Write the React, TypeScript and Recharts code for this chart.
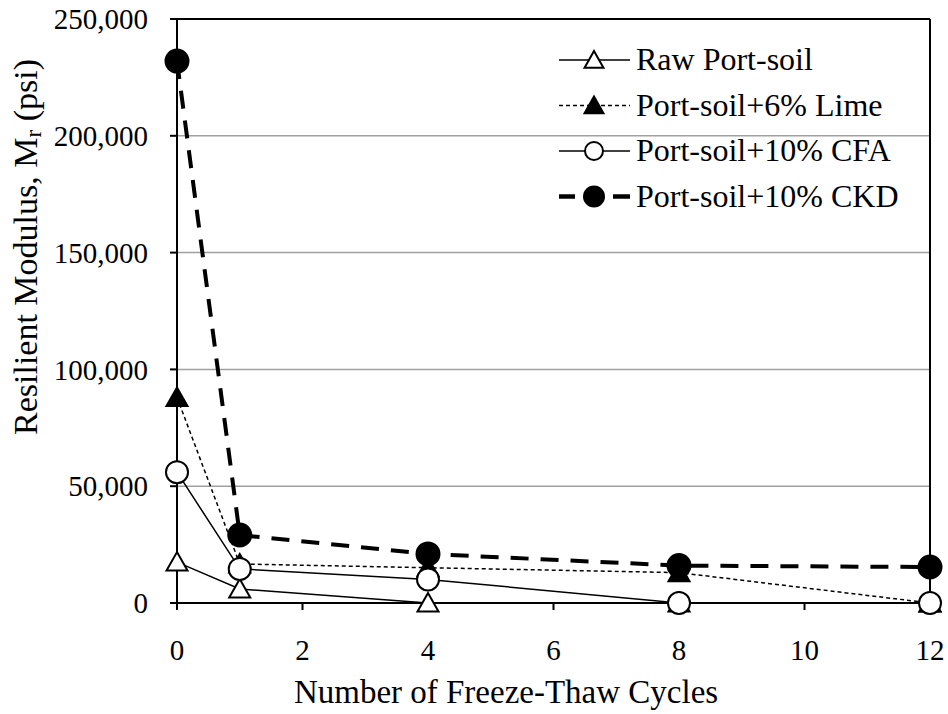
import React from 'react';
import { LineChart, Line, XAxis, YAxis, CartesianGrid, ReferenceLine, Legend } from 'recharts';

const cycles = [0, 1, 4, 8, 12];
const rawPortSoil = [17500, 6000, 0, 0, 0];
const lime6 = [88000, 16700, 15100, 13000, 0];
const cfa10 = [56000, 14600, 10100, 0, 0];
const ckd10 = [232000, 29100, 21000, 16000, 15400];

const seriesNames = ['Raw Port-soil', 'Port-soil+6% Lime', 'Port-soil+10% CFA', 'Port-soil+10% CKD'];
const xTicks = [0, 2, 4, 6, 8, 10, 12];
const yTicks = [0, 50000, 100000, 150000, 200000, 250000];

const data = cycles.map((c, i) => ({ x: c, raw: rawPortSoil[i], lime: lime6[i], cfa: cfa10[i], ckd: ckd10[i] }));

const FONT = 'Liberation Serif';

type Kind = 'triOpen' | 'triFilled' | 'circOpen' | 'circFilled';

const marker = (kind: Kind, cx: number, cy: number, s: number, key?: string) => {
  if (kind === 'triOpen' || kind === 'triFilled') {
    const h = s * 1.0;
    const w = s * 1.05;
    const pts = `${cx},${cy - h} ${cx - w},${cy + h * 0.85} ${cx + w},${cy + h * 0.85}`;
    return (
      <polygon key={key} points={pts} fill={kind === 'triFilled' ? '#000' : '#fff'} stroke="#000" strokeWidth={2} />
    );
  }
  return <circle key={key} cx={cx} cy={cy} r={s} fill={kind === 'circFilled' ? '#000' : '#fff'} stroke="#000" strokeWidth={2} />;
};

const makeDot = (kind: Kind, size: number, name: string) => (props: any) => {
  const { cx, cy, index } = props;
  if (cx == null || cy == null) return <g key={`${name}-${index}`} />;
  return marker(kind, cx, cy, size, `${name}-${index}`);
};

const legendRows: { kind: Kind; dash?: string; width: number; size: number }[] = [
  { kind: 'triOpen', width: 1.5, size: 9 },
  { kind: 'triFilled', dash: '4 3', width: 1.5, size: 9 },
  { kind: 'circOpen', width: 1.5, size: 9 },
  { kind: 'circFilled', width: 4.5, size: 10 },
];

const LegendContent = () => (
  <svg width={380} height={190} style={{ overflow: 'visible' }}>
    {seriesNames.map((name, i) => {
      const row = legendRows[i];
      const y = 20 + i * 45.5;
      return (
        <g key={name}>
          {row.kind === 'circFilled' ? (
            <g>
              <line x1={4} y1={y} x2={20} y2={y} stroke="#000" strokeWidth={row.width} />
              <line x1={58} y1={y} x2={75} y2={y} stroke="#000" strokeWidth={row.width} />
            </g>
          ) : (
            <line x1={4} y1={y} x2={75} y2={y} stroke="#000" strokeWidth={row.width} strokeDasharray={row.dash} />
          )}
          {marker(row.kind, 39, y, row.size)}
          <text x={81} y={y + 10} style={{ fontFamily: FONT, fontSize: 32 }} fill="#000">
            {name}
          </text>
        </g>
      );
    })}
  </svg>
);

const YTitle = () => (
  <text
    x={25}
    y={247}
    transform="rotate(-90, 25, 247)"
    textAnchor="middle"
    dominantBaseline="central"
    style={{ fontFamily: FONT, fontSize: 34 }}
    fill="#000"
  >
    Resilient Modulus, M<tspan style={{ fontSize: 23 }} dy={8}>r</tspan>
    <tspan dy={-8}> (psi)</tspan>
  </text>
);

const XTitle = () => (
  <text x={506} y={703} textAnchor="middle" style={{ fontFamily: FONT, fontSize: 33 }} fill="#000">
    Number of Freeze-Thaw Cycles
  </text>
);

export default function App() {
  const tickStyle = { fill: '#000', style: { fontFamily: FONT, fontSize: 29 } };
  return (
    <div style={{ position: 'absolute', left: 0, top: 0, width: 948, height: 714, background: '#fff' }}>
      <LineChart width={948} height={714} data={data} margin={{ top: 19, right: 18, left: 0, bottom: 0 }}>
        <CartesianGrid vertical={false} stroke="#a0a0a0" strokeWidth={1.5} />
        <XAxis
          dataKey="x"
          type="number"
          domain={[0, 12]}
          ticks={xTicks}
          height={111}
          tickSize={7}
          tickMargin={29}
          stroke="#000"
          strokeWidth={2}
          tick={tickStyle}
          tickLine={{ stroke: '#000', strokeWidth: 2 }}
          label={<XTitle />}
        />
        <YAxis
          type="number"
          domain={[0, 250000]}
          ticks={yTicks}
          width={177}
          tickSize={7}
          tickMargin={22}
          stroke="#000"
          strokeWidth={2}
          tick={tickStyle}
          tickLine={{ stroke: '#000', strokeWidth: 2 }}
          tickFormatter={(v: number) => v.toLocaleString('en-US')}
          label={<YTitle />}
        />
        <ReferenceLine y={250000} stroke="#000" strokeWidth={2} />
        <ReferenceLine x={12} stroke="#000" strokeWidth={2} />
        <Legend
          layout="vertical"
          align="center"
          verticalAlign="middle"
          content={<LegendContent />}
          wrapperStyle={{ left: 555, top: 40, width: 380, height: 190 }}
        />
        <Line
          dataKey="raw"
          name={seriesNames[0]}
          stroke="#000"
          strokeWidth={1.5}
          isAnimationActive={false}
          dot={makeDot('triOpen', 10, 'raw')}
          activeDot={false}
        />
        <Line
          dataKey="lime"
          name={seriesNames[1]}
          stroke="#000"
          strokeWidth={1.5}
          strokeDasharray="4 3"
          isAnimationActive={false}
          dot={makeDot('triFilled', 10, 'lime')}
          activeDot={false}
        />
        <Line
          dataKey="cfa"
          name={seriesNames[2]}
          stroke="#000"
          strokeWidth={1.5}
          isAnimationActive={false}
          dot={makeDot('circOpen', 11, 'cfa')}
          activeDot={false}
        />
        <Line
          dataKey="ckd"
          name={seriesNames[3]}
          stroke="#000"
          strokeWidth={4}
          strokeDasharray="18 12"
          isAnimationActive={false}
          dot={makeDot('circFilled', 11.5, 'ckd')}
          activeDot={false}
        />
      </LineChart>
    </div>
  );
}
